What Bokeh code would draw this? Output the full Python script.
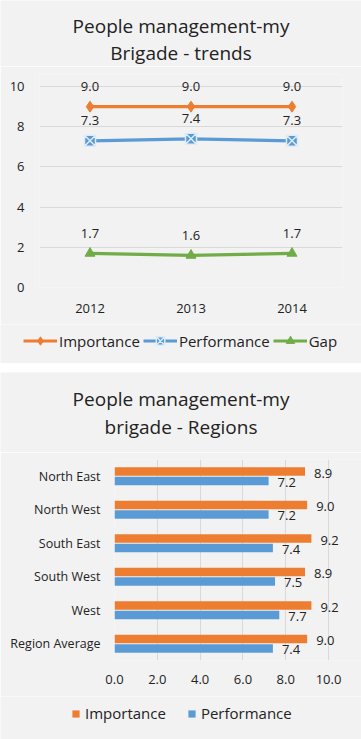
from bokeh.plotting import figure
from bokeh.models import (ColumnDataSource, FactorRange, Range1d, FixedTicker, Legend,
                          LegendItem, LabelSet, Label, Spacer, PrintfTickFormatter)
from bokeh.core.properties import value
from bokeh.layouts import column
from bokeh.transform import dodge
from bokeh.embed import file_html
from bokeh.resources import INLINE

# ---------------- data ----------------
years = ["2012", "2013", "2014"]
importance_trend = [9.0, 9.0, 9.0]
performance_trend = [7.3, 7.4, 7.3]
gap_trend = [1.7, 1.6, 1.7]
trend_ticks = [0, 2, 4, 6, 8, 10]

regions = ["North East", "North West", "South East", "South West", "West", "Region Average"]
importance_region = [8.9, 9.0, 9.2, 8.9, 9.2, 9.0]
performance_region = [7.2, 7.2, 7.4, 7.5, 7.7, 7.4]
region_ticks = [0, 2, 4, 6, 8, 10]

series_names = ["Importance", "Performance", "Gap"]
title_top = ["People management-my", "Brigade - trends"]
title_bottom = ["People management-my", "brigade - Regions"]

# ---------------- style ----------------
ORANGE = "#ED7D31"
BLUE = "#5B9BD5"
GREEN = "#70AD47"
BG = "#F2F2F2"
GRID = "#D9D9D9"
TXT = "#222222"
FONT = "Open Sans"
NAN = float("nan")   # legend-only renderers carry no visible point

W = 361


def base_fig(**kw):
    p = figure(output_backend="svg", toolbar_location=None, **kw)
    p.background_fill_color = BG
    p.border_fill_color = BG
    p.outline_line_color = None
    p.frame_align = False
    return p


def blank_fig(h, xr=None, yr=None):
    t = base_fig(width=W, height=h, x_range=xr or Range1d(0, W), y_range=yr or Range1d(h, 0),
                 x_axis_location=None, y_axis_location=None,
                 min_border_left=0, min_border_right=0, min_border_top=0, min_border_bottom=0)
    t.grid.grid_line_color = None
    return t


def style_axis(ax, size="13px", standoff=12):
    ax.axis_line_color = None
    ax.major_tick_line_color = None
    ax.minor_tick_line_color = None
    ax.major_tick_out = 0
    ax.major_tick_in = 0
    ax.minor_tick_out = 0
    ax.minor_tick_in = 0
    ax.major_label_text_font = FONT
    ax.major_label_text_font_size = size
    ax.major_label_text_color = TXT
    ax.major_label_standoff = standoff


def title_fig(lines, h, ys, size="19px"):
    t = blank_fig(h)
    for line, y in zip(lines, ys):
        t.add_layout(Label(x=W / 2, y=y, text=line, text_align="center", text_baseline="middle",
                           text_font=FONT, text_font_size=size, text_color=TXT))
    return t


def legend_kw(**kw):
    base = dict(orientation="horizontal", padding=0, margin=0, border_line_color=None,
                background_fill_alpha=0, label_text_font=FONT, label_text_font_size="15px",
                label_text_color=TXT, label_height=18)
    base.update(kw)
    return base


def label_kw(**kw):
    base = dict(text_baseline="middle", text_font=value(FONT), text_font_size=value("13px"),
                text_color=value(TXT))
    base.update(kw)
    return base


# ---------------- top chart: trends ----------------
t1 = title_fig(title_top, 66, [25.5, 52])

p1 = base_fig(width=W, height=258, x_range=FactorRange(factors=years), y_range=Range1d(0, 10.6),
              min_border_left=39, min_border_right=19, min_border_top=8, min_border_bottom=37)
p1.xgrid.grid_line_color = None
p1.ygrid.grid_line_color = GRID
p1.yaxis.ticker = FixedTicker(ticks=trend_ticks)
style_axis(p1.xaxis[0], "13px", 16)
style_axis(p1.yaxis[0], "13px", 15)

src1 = ColumnDataSource(dict(
    year=years, imp=importance_trend, perf=performance_trend, gap=gap_trend,
    imp_t=[f"{v:.1f}" for v in importance_trend],
    perf_t=[f"{v:.1f}" for v in performance_trend],
    gap_t=[f"{v:.1f}" for v in gap_trend],
))

line_styles = [
    ("imp", ORANGE, dict(marker="diamond", size=11, fill_color=ORANGE, line_color=ORANGE)),
    ("perf", BLUE, dict(marker="square_x", size=11, fill_color=BLUE, line_color="#DDEBF7", line_width=1.5)),
    ("gap", GREEN, dict(marker="triangle", size=10, fill_color=GREEN, line_color=GREEN)),
]

for col, color, mk in line_styles:
    p1.line("year", col, source=src1, line_color=color, line_width=3.2)
    p1.scatter("year", col, source=src1, **mk)
    p1.add_layout(LabelSet(x="year", y=col, text=col + "_t", source=src1, y_offset=20,
                           **label_kw(text_align="center")))

# legend strip for the top chart (legend-only renderers, nothing visible in the strip)
L1 = blank_fig(39, Range1d(0, 1), Range1d(0, 1))
items1 = []
for name, (col, color, mk) in zip(series_names, line_styles):
    rl = L1.line(x=[NAN], y=[NAN], line_color=color, line_width=3)
    rm = L1.scatter(x=[NAN], y=[NAN], **mk)
    items1.append(LegendItem(label=name, renderers=[rl, rm]))
L1.add_layout(Legend(items=items1, location=(23, 12), glyph_width=34, glyph_height=21,
                     label_standoff=2, spacing=3, **legend_kw(label_height=20)), "center")

# ---------------- bottom chart: regions ----------------
t2 = title_fig(title_bottom, 80, [26, 54])

p2 = base_fig(width=W, height=244, x_range=Range1d(0, 11.54), y_range=FactorRange(factors=regions[::-1]),
              min_border_left=114, min_border_right=0, min_border_top=7, min_border_bottom=36)
p2.ygrid.grid_line_color = None
p2.xgrid.grid_line_color = GRID
p2.xaxis.ticker = FixedTicker(ticks=region_ticks)
p2.xaxis.formatter = PrintfTickFormatter(format="%.1f")
style_axis(p2.xaxis[0], "13px", 14)
style_axis(p2.yaxis[0], "12.5px", 14)

src2 = ColumnDataSource(dict(
    region=regions, imp=importance_region, perf=performance_region,
    imp_t=[f"{v:.1f}" for v in importance_region],
    perf_t=[f"{v:.1f}" for v in performance_region],
))

bar_styles = [("imp", ORANGE, 0.14), ("perf", BLUE, -0.14)]
for col, color, off in bar_styles:
    yd = dodge("region", off, range=p2.y_range)
    p2.hbar(y=yd, left=0, right=col, height=0.25, source=src2, fill_color=color, line_color=None)
    p2.add_layout(LabelSet(x=col, y=yd, text=col + "_t", source=src2, x_offset=9, y_offset=-1.5,
                           **label_kw(text_align="left")))

L2 = blank_fig(43, Range1d(0, 1), Range1d(0, 1))
items2 = []
for name, (col, color, off) in zip(series_names[:2], bar_styles):
    rb = L2.hbar(y=[NAN], left=[NAN], right=[NAN], height=1, fill_color=color, line_color=None)
    items2.append(LegendItem(label=name, renderers=[rb]))
L2.add_layout(Legend(items=items2, location=(71, 16), glyph_width=9, glyph_height=9,
                     label_standoff=5, spacing=21, **legend_kw()), "center")

layout = column(t1, p1, L1, Spacer(width=W, height=9), t2, p2, L2, spacing=0)

with open("out.html", "w") as f:
    f.write(file_html(layout, INLINE))
